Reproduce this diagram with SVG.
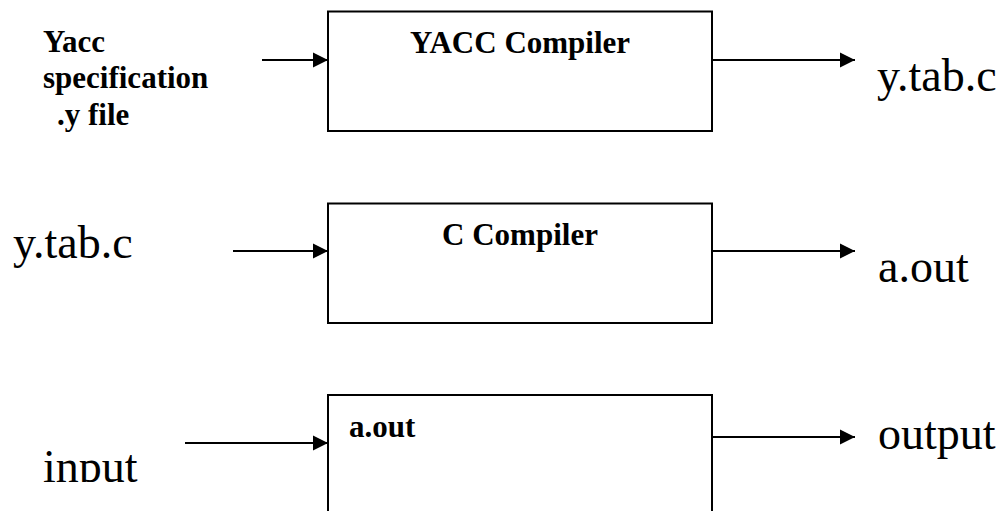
<svg xmlns="http://www.w3.org/2000/svg" width="1006" height="511" viewBox="0 0 1006 511">
  <style>
    .box { fill: #ffffff; stroke: #000000; stroke-width: 2; }
    .wire { fill: none; stroke: #000000; stroke-width: 2; }
    .title { font-weight: bold; font-size: 31px; fill: #000000; }
    .label { font-size: 46px; fill: #000000; }
  </style>
  <defs>
    <marker id="arrow" markerUnits="userSpaceOnUse" markerWidth="16" markerHeight="16" viewBox="0 0 16 16" refX="15" refY="8" orient="auto">
      <path d="M0,0.5 L15,8 L0,15.5 Z" fill="#000000"/>
    </marker>
    <clipPath id="clip-input">
      <rect x="0" y="420" width="200" height="62"/>
    </clipPath>
  </defs>
  <rect width="1006" height="511" fill="#ffffff"/>

  <!-- all text set in a Times-metric serif -->
  <g font-family="Liberation Serif, DejaVu Serif, serif">
    <!-- stage 1: yacc -->
    <g id="yacc-spec">
      <text class="title" x="43" y="52">Yacc</text>
      <text class="title" x="43" y="88">specification</text>
      <text class="title" x="57" y="125">.y file</text>
    </g>
    <g id="yacc-compiler">
      <rect class="box" x="328" y="11.5" width="384" height="119.5"/>
      <text class="title" x="520" y="53" text-anchor="middle">YACC Compiler</text>
    </g>
    <g id="ytab-out">
      <text class="label" x="877" y="91">y.tab.c</text>
    </g>

    <!-- stage 2: C compiler -->
    <g id="ytab-in">
      <text class="label" x="13" y="258">y.tab.c</text>
    </g>
    <g id="c-compiler">
      <rect class="box" x="328" y="203.5" width="384" height="119.5"/>
      <text class="title" x="520" y="245" text-anchor="middle">C Compiler</text>
    </g>
    <g id="aout-out">
      <text class="label" x="878" y="282">a.out</text>
    </g>

    <!-- stage 3: run -->
    <g id="input">
      <text class="label" x="43" y="482" clip-path="url(#clip-input)">input</text>
    </g>
    <g id="aout-run">
      <rect class="box" x="328" y="395" width="384" height="130"/>
      <text class="title" x="349" y="437">a.out</text>
    </g>
    <g id="output">
      <text class="label" x="878" y="449">output</text>
    </g>
  </g>

  <!-- connectors -->
  <g id="connectors">
    <line class="wire" x1="262" y1="60" x2="328" y2="60" marker-end="url(#arrow)"/>
    <line class="wire" x1="712" y1="60" x2="855" y2="60" marker-end="url(#arrow)"/>
    <line class="wire" x1="233" y1="251" x2="328" y2="251" marker-end="url(#arrow)"/>
    <line class="wire" x1="712" y1="251" x2="855" y2="251" marker-end="url(#arrow)"/>
    <line class="wire" x1="185" y1="443" x2="328" y2="443" marker-end="url(#arrow)"/>
    <line class="wire" x1="712" y1="437" x2="855" y2="437" marker-end="url(#arrow)"/>
  </g>
</svg>
